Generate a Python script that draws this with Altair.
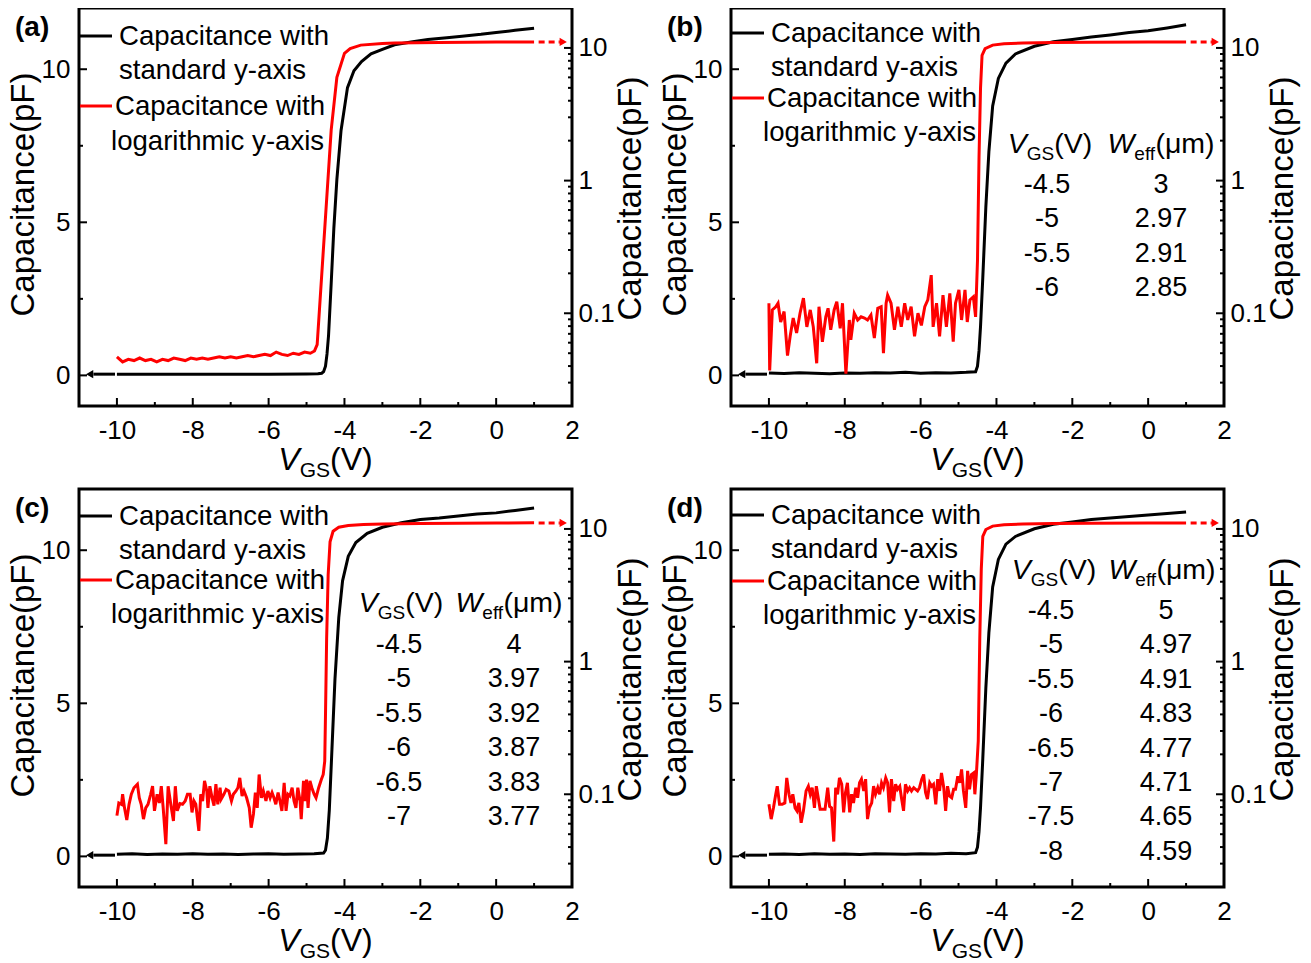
import altair as alt
import pandas as pd

FONT = "Liberation Sans"
W, H = 493, 398
X_DOMAIN = [-11, 2]
Y_DOMAIN = [-1, 12]
LOG_DOMAIN = [0.02, 20]
X_MAJOR = [-10, -8, -6, -4, -2, 0, 2]
X_MINOR = [-9, -7, -5, -3, -1, 1]
Y_MAJOR = [0, 5, 10]
Y_MINOR = [2.5, 7.5]
LOG_MAJOR = [0.1, 1, 10]
LOG_MINOR = [0.03, 0.04, 0.05, 0.06, 0.07, 0.08, 0.09,
             0.2, 0.3, 0.4, 0.5, 0.6, 0.7, 0.8, 0.9,
             2, 3, 4, 5, 6, 7, 8, 9]

# ---------------- panel (a) ----------------
A_BLACK_V = [-10.0, -9.0, -8.0, -7.0, -6.0, -5.0, -4.7, -4.6, -4.55, -4.5, -4.46, -4.42, -4.35, -4.28, -4.2,
             -4.09, -3.92, -3.75, -3.55, -3.3, -3.0, -2.68, -2.2, -1.8, -1.3, -0.9, -0.4, 0.0, 0.5, 1.0]
A_BLACK_C = [0.04, 0.04, 0.04, 0.04, 0.04, 0.045, 0.05, 0.07, 0.12, 0.3, 0.7, 1.3, 3.0, 4.8, 6.4,
             8.0, 9.4, 9.95, 10.25, 10.5, 10.65, 10.8, 10.9, 10.97, 11.03, 11.08, 11.14, 11.2, 11.27, 11.34]
A_RED_V = [-10.0, -9.85, -9.7, -9.55, -9.4, -9.25, -9.1, -8.95, -8.8, -8.65, -8.5, -8.35, -8.2, -8.05, -7.9,
           -7.75, -7.6, -7.45, -7.3, -7.15, -7.0, -6.85, -6.7, -6.55, -6.4, -6.25, -6.1, -5.95, -5.8, -5.65,
           -5.5, -5.35, -5.2, -5.05, -4.9, -4.79, -4.72, -4.35, -4.2, -4.0, -3.85, -3.57, -3.0, -2.68, -1.5,
           0.0, 1.0]
A_RED_C = [0.047, 0.043, 0.045, 0.044, 0.046, 0.044, 0.045, 0.043, 0.045, 0.044, 0.046, 0.045, 0.044, 0.046,
           0.045, 0.046, 0.045, 0.046, 0.047, 0.046, 0.047, 0.046, 0.047, 0.048, 0.047, 0.048, 0.049, 0.048,
           0.051, 0.049, 0.048, 0.050, 0.049, 0.051, 0.050, 0.052, 0.058, 2.4, 6.0, 9.1, 9.9, 10.5, 10.8,
           10.9, 11.0, 11.07, 11.1]

# ---------------- panel (b) ----------------
B_BLACK_V = [-10.0, -9.6, -9.2, -8.8, -8.4, -8.0, -7.6, -7.2, -6.8, -6.4, -6.0, -5.6, -5.2, -4.8,
             -4.55, -4.5, -4.46, -4.42, -4.36, -4.28, -4.2, -4.1, -3.95, -3.75, -3.5, -3.0, -2.5, -2.0,
             -1.5, -1.0, -0.5, 0.0, 0.5, 1.0]
B_BLACK_C = [0.08, 0.06, 0.09, 0.07, 0.05, 0.08, 0.07, 0.09, 0.08, 0.1, 0.07, 0.09, 0.08, 0.1,
             0.12, 0.3, 0.8, 1.6, 3.2, 5.5, 7.3, 8.8, 9.7, 10.2, 10.5, 10.75, 10.9, 10.97,
             11.05, 11.12, 11.2, 11.26, 11.35, 11.45]
B_RED_V = [-10.0, -9.98, -9.91, -9.82, -9.76, -9.69, -9.60, -9.51, -9.44, -9.36, -9.27, -9.18, -9.09, -9.00,
           -8.91, -8.83, -8.74, -8.68, -8.59, -8.50, -8.44, -8.37, -8.28, -8.21, -8.12, -8.06, -7.97, -7.88,
           -7.84, -7.75, -7.66, -7.57, -7.48, -7.40, -7.31, -7.22, -7.13, -7.04, -6.98, -6.91, -6.87, -6.78,
           -6.69, -6.60, -6.51, -6.42, -6.34, -6.25, -6.16, -6.07, -5.98, -5.89, -5.81, -5.72, -5.67, -5.58,
           -5.50, -5.41, -5.32, -5.23, -5.14, -5.08, -4.99, -4.92, -4.83, -4.77, -4.70, -4.61, -4.55, -4.50,
           -4.46, -4.42, -4.38, -4.30, -4.10, -3.80, -3.30, -2.50, -1.50, 0.0, 1.0]
B_RED_C = [0.119, 0.037, 0.106, 0.112, 0.119, 0.086, 0.103, 0.048, 0.067, 0.092, 0.071, 0.100, 0.130, 0.079,
           0.106, 0.079, 0.042, 0.112, 0.061, 0.094, 0.109, 0.075, 0.106, 0.122, 0.077, 0.119, 0.035, 0.089,
           0.063, 0.100, 0.089, 0.094, 0.092, 0.089, 0.097, 0.065, 0.109, 0.112, 0.050, 0.119, 0.137, 0.119,
           0.075, 0.112, 0.079, 0.119, 0.089, 0.112, 0.067, 0.100, 0.081, 0.112, 0.126, 0.194, 0.079, 0.119,
           0.067, 0.137, 0.079, 0.141, 0.061, 0.119, 0.150, 0.089, 0.150, 0.086, 0.126, 0.133, 0.094, 0.252,
           1.5, 5.0, 8.8, 9.9, 10.5, 10.75, 10.9, 10.98, 11.03, 11.08, 11.1]
B_TABLE_VGS = ["-4.5", "-5", "-5.5", "-6"]
B_TABLE_WEFF = ["3", "2.97", "2.91", "2.85"]

# ---------------- panel (c) ----------------
C_BLACK_V = [-10.0, -9.6, -9.2, -8.8, -8.4, -8.0, -7.6, -7.2, -6.8, -6.4, -6.0, -5.6, -5.2, -4.8,
             -4.55, -4.5, -4.45, -4.40, -4.33, -4.25, -4.15, -4.05, -3.9, -3.7, -3.4, -3.0, -2.5, -2.0,
             -1.5, -1.0, -0.5, 0.0, 0.5, 1.0]
C_BLACK_C = [0.07, 0.09, 0.06, 0.08, 0.07, 0.09, 0.07, 0.08, 0.06, 0.08, 0.09, 0.07, 0.08, 0.09,
             0.11, 0.2, 0.6, 1.5, 3.5, 5.8, 7.8, 9.0, 9.8, 10.25, 10.55, 10.75, 10.9, 11.0,
             11.05, 11.12, 11.18, 11.22, 11.3, 11.38]
C_RED_V = [-10.0, -9.95, -9.88, -9.85, -9.80, -9.74, -9.68, -9.62, -9.55, -9.46, -9.41, -9.36, -9.30, -9.24,
           -9.18, -9.11, -9.06, -9.01, -8.94, -8.88, -8.83, -8.78, -8.71, -8.65, -8.58, -8.51, -8.46, -8.41,
           -8.34, -8.27, -8.20, -8.14, -8.07, -8.02, -7.97, -7.92, -7.84, -7.79, -7.74, -7.69, -7.63, -7.60,
           -7.55, -7.49, -7.44, -7.39, -7.34, -7.28, -7.25, -7.18, -7.12, -7.05, -6.98, -6.93, -6.86, -6.81,
           -6.76, -6.70, -6.65, -6.58, -6.51, -6.46, -6.40, -6.35, -6.30, -6.25, -6.19, -6.14, -6.07, -6.02,
           -5.96, -5.91, -5.86, -5.81, -5.75, -5.70, -5.65, -5.59, -5.54, -5.49, -5.44, -5.38, -5.33, -5.28,
           -5.23, -5.17, -5.14, -5.08, -5.03, -5.00, -4.96, -4.91, -4.86, -4.80, -4.75, -4.68, -4.61, -4.56,
           -4.52,
           -4.50, -4.47, -4.43, -4.38, -4.30, -4.15, -3.90, -3.50, -3.00, -2.00, -1.00, 0.0, 1.0]
C_RED_C = [0.069, 0.086, 0.084, 0.100, 0.079, 0.064, 0.084, 0.100, 0.112, 0.119, 0.094, 0.084, 0.065, 0.079,
           0.084, 0.100, 0.115, 0.075, 0.100, 0.086, 0.115, 0.079, 0.042, 0.115, 0.084, 0.063, 0.115, 0.075,
           0.085, 0.084, 0.089, 0.100, 0.100, 0.073, 0.089, 0.084, 0.053, 0.100, 0.089, 0.126, 0.106, 0.079,
           0.115, 0.094, 0.082, 0.119, 0.084, 0.112, 0.092, 0.100, 0.109, 0.106, 0.089, 0.100, 0.106, 0.112,
           0.133, 0.097, 0.106, 0.094, 0.079, 0.056, 0.071, 0.103, 0.079, 0.141, 0.094, 0.106, 0.089, 0.106,
           0.094, 0.103, 0.094, 0.084, 0.103, 0.089, 0.075, 0.122, 0.075, 0.100, 0.097, 0.112, 0.089, 0.079,
           0.112, 0.089, 0.065, 0.126, 0.089, 0.129, 0.079, 0.126, 0.112, 0.100, 0.094, 0.112, 0.129, 0.141,
           0.178,
           0.4, 1.5, 4.5, 8.0, 9.6, 10.3, 10.6, 10.8, 10.9, 11.0, 11.05, 11.1, 11.12]
C_TABLE_VGS = ["-4.5", "-5", "-5.5", "-6", "-6.5", "-7"]
C_TABLE_WEFF = ["4", "3.97", "3.92", "3.87", "3.83", "3.77"]

# ---------------- panel (d) ----------------
D_BLACK_V = [-10.0, -9.6, -9.2, -8.8, -8.4, -8.0, -7.6, -7.2, -6.8, -6.4, -6.0, -5.6, -5.2, -4.8,
             -4.55, -4.5, -4.46, -4.42, -4.36, -4.28, -4.2, -4.1, -3.95, -3.75, -3.5, -3.0, -2.5, -2.0,
             -1.5, -1.0, -0.5, 0.0, 0.5, 1.0]
D_BLACK_C = [0.07, 0.08, 0.06, 0.09, 0.07, 0.08, 0.06, 0.09, 0.08, 0.07, 0.09, 0.08, 0.1, 0.09,
             0.12, 0.3, 0.8, 1.6, 3.2, 5.5, 7.3, 8.8, 9.7, 10.2, 10.45, 10.7, 10.85, 10.92,
             11.0, 11.05, 11.1, 11.15, 11.2, 11.25]
D_RED_V = [-10.00, -9.94, -9.88, -9.82, -9.78, -9.72, -9.65, -9.58, -9.53, -9.47, -9.42, -9.37, -9.31, -9.26,
           -9.21, -9.15, -9.09, -9.02, -8.96, -8.91, -8.86, -8.80, -8.75, -8.70, -8.65, -8.59, -8.52, -8.45,
           -8.40, -8.35, -8.29, -8.24, -8.19, -8.14, -8.08, -8.03, -7.98, -7.93, -7.87, -7.82, -7.77, -7.71,
           -7.66, -7.61, -7.56, -7.50, -7.45, -7.40, -7.35, -7.29, -7.24, -7.19, -7.13, -7.08, -7.03, -6.98,
           -6.92, -6.87, -6.82, -6.77, -6.71, -6.66, -6.61, -6.55, -6.50, -6.45, -6.40, -6.34, -6.29, -6.24,
           -6.18, -6.13, -6.08, -6.03, -5.97, -5.92, -5.87, -5.82, -5.76, -5.71, -5.66, -5.60, -5.55, -5.50,
           -5.45, -5.39, -5.34, -5.29, -5.24, -5.18, -5.13, -5.08, -5.02, -4.97, -4.92, -4.87, -4.81, -4.76,
           -4.71, -4.66, -4.60, -4.57, -4.53, -4.48,
           -4.44, -4.40, -4.36, -4.28, -4.10, -3.80, -3.30, -2.50, -1.50, 0.0, 1.0]
D_RED_C = [0.084, 0.065, 0.079, 0.100, 0.115, 0.084, 0.084, 0.086, 0.133, 0.100, 0.086, 0.100, 0.079, 0.075,
           0.086, 0.061, 0.075, 0.106, 0.115, 0.100, 0.112, 0.079, 0.115, 0.094, 0.077, 0.077, 0.077, 0.112,
           0.081, 0.079, 0.044, 0.112, 0.100, 0.133, 0.119, 0.073, 0.103, 0.122, 0.073, 0.100, 0.086, 0.112,
           0.094, 0.122, 0.130, 0.106, 0.130, 0.065, 0.079, 0.086, 0.115, 0.100, 0.112, 0.100, 0.122, 0.112,
           0.133, 0.122, 0.073, 0.130, 0.089, 0.119, 0.109, 0.115, 0.092, 0.075, 0.119, 0.106, 0.112, 0.106,
           0.112, 0.109, 0.106, 0.112, 0.130, 0.141, 0.103, 0.092, 0.122, 0.115, 0.119, 0.084, 0.130, 0.106,
           0.145, 0.112, 0.075, 0.115, 0.097, 0.094, 0.109, 0.109, 0.137, 0.122, 0.154, 0.106, 0.079, 0.150,
           0.109, 0.141, 0.145, 0.100, 0.141, 0.252,
           1.5, 5.0, 8.8, 9.9, 10.5, 10.75, 10.9, 10.98, 11.03, 11.08, 11.1]
D_TABLE_VGS = ["-4.5", "-5", "-5.5", "-6", "-6.5", "-7", "-7.5", "-8"]
D_TABLE_WEFF = ["5", "4.97", "4.91", "4.83", "4.77", "4.71", "4.65", "4.59"]

# arrows (pointing to the axis each curve belongs to)
ARROW_LEFT_V = [-10.05, -10.62]
ARROW_LEFT_HEAD_V = [-10.72]
ARROW_LEFT_C = 0.04
ARROW_RIGHT_V = [1.12, 1.68]
ARROW_RIGHT_HEAD_V = [1.77]
ARROW_RIGHT_C = 11.1

LEGEND_TEXT = ["Capacitance with", "standard y-axis", "Capacitance with", "logarithmic y-axis"]

# ---------------- styling / layout helpers ----------------
CHAR_W = {'V': 0.667, 'G': 0.778, 'S': 0.667, '(': 0.333, ')': 0.333, 'W': 0.944,
          'e': 0.556, 'f': 0.278, 'μ': 0.576, 'm': 0.833}
LABEL_EXPR = "'' + datum.value"


def tw(s, size):
    return sum(CHAR_W.get(c, 0.556) for c in s) * size


def sub_label(cx, base_y, main, sub, tail, fs, sfs, dy):
    w0, w1, w2 = tw(main, fs), tw(sub, sfs), tw(tail, fs)
    x0 = cx - (w0 + w1 + w2) / 2
    ital = [dict(px=x0, py=base_y, t=main, fs=fs)]
    norm = [dict(px=x0 + w0, py=base_y + dy, t=sub, fs=sfs),
            dict(px=x0 + w0 + w1, py=base_y, t=tail, fs=fs)]
    return ital, norm


def text_layer(rows, style="normal", weight="normal", align="left", baseline="alphabetic"):
    df = pd.DataFrame(rows)
    return alt.Chart(df).mark_text(font=FONT, fontStyle=style, fontWeight=weight, align=align,
                                   baseline=baseline, color="black").encode(
        x=alt.X("px:Q", scale=None),
        y=alt.Y("py:Q", scale=None),
        text=alt.Text("t:N"),
        size=alt.Size("fs:Q", scale=None, legend=None),
    )


xs = alt.Scale(domain=X_DOMAIN, nice=False, zero=False)
ys = alt.Scale(domain=Y_DOMAIN, nice=False, zero=False)
ls = alt.Scale(type="log", domain=LOG_DOMAIN, nice=False)

x_axis = alt.Axis(values=X_MAJOR, domain=False, ticks=False, tickSize=0, labelPadding=11,
                  labelFontSize=26, labelFlush=False, grid=False, labelExpr=LABEL_EXPR, title="")
left_axis = alt.Axis(values=Y_MAJOR, orient="left", domain=False, ticks=False, tickSize=0,
                     labelPadding=9, labelFontSize=26, grid=False, labelExpr=LABEL_EXPR,
                     title="Capacitance(pF)", titleFontSize=33, titleFontWeight="normal",
                     titlePadding=1, titleY=186)
right_axis = alt.Axis(values=LOG_MAJOR, orient="right", domain=False, ticks=False, tickSize=0,
                      labelPadding=6, labelFontSize=26, grid=False, labelExpr=LABEL_EXPR,
                      title="Capacitance(pF)", titleFontSize=33, titleFontWeight="normal",
                      titleAngle=270, titleBaseline="top", titlePadding=0, titleY=190)


def X(field):
    return alt.X(field, scale=xs, axis=x_axis, title="")


def YL(field):
    return alt.Y(field, scale=ys, axis=left_axis, title="Capacitance(pF)")


def YR(field):
    return alt.Y(field, scale=ls, axis=right_axis, title="Capacitance(pF)")


def panel(label, bv, bc, rv, rc, leg_y, table=None):
    black = alt.Chart(pd.DataFrame({"V": bv, "C": bc})).mark_line(color="black", strokeWidth=3).encode(
        x=X("V:Q"), y=YL("C:Q"))
    red = alt.Chart(pd.DataFrame({"V": rv, "C": rc})).mark_line(color="#ff0000", strokeWidth=3).encode(
        x=X("V:Q"), y=YR("C:Q"))

    def xticks(vals, ln):
        return alt.Chart(pd.DataFrame({"V": vals})).mark_rule(color="black", strokeWidth=2).encode(
            x=X("V:Q"), y=alt.value(H), y2=alt.value(H - ln))

    def yticks(vals, ln):
        return alt.Chart(pd.DataFrame({"C": vals})).mark_rule(color="black", strokeWidth=2).encode(
            y=YL("C:Q"), x=alt.value(0), x2=alt.value(ln))

    def lticks(vals, ln):
        return alt.Chart(pd.DataFrame({"C": vals})).mark_rule(color="black", strokeWidth=2).encode(
            y=YR("C:Q"), x=alt.value(W), x2=alt.value(W - ln))

    arrow_l = alt.Chart(pd.DataFrame({"V": ARROW_LEFT_V, "C": [ARROW_LEFT_C] * 2})).mark_line(
        color="black", strokeWidth=3).encode(x=X("V:Q"), y=YL("C:Q"))
    arrow_l_head = alt.Chart(pd.DataFrame({"V": ARROW_LEFT_HEAD_V, "C": [ARROW_LEFT_C]})).mark_point(
        shape="triangle-left", filled=True, color="black", size=70, opacity=1).encode(
        x=X("V:Q"), y=YL("C:Q"))
    arrow_r = alt.Chart(pd.DataFrame({"V": ARROW_RIGHT_V, "C": [ARROW_RIGHT_C] * 2})).mark_line(
        color="#ff0000", strokeWidth=3, strokeDash=[6, 4]).encode(x=X("V:Q"), y=YR("C:Q"))
    arrow_r_head = alt.Chart(pd.DataFrame({"V": ARROW_RIGHT_HEAD_V, "C": [ARROW_RIGHT_C]})).mark_point(
        shape="triangle-right", filled=True, color="#ff0000", size=70, opacity=1).encode(
        x=X("V:Q"), y=YR("C:Q"))

    # legend
    leg_lines = pd.DataFrame({"x1": [1, 1], "x2": [33, 33], "yy": [leg_y[0] - 1, leg_y[2] - 1],
                              "col": ["black", "#ff0000"]})
    leg_line_layer = alt.Chart(leg_lines).mark_rule(strokeWidth=3).encode(
        x=alt.X("x1:Q", scale=None), x2="x2:Q",
        y=alt.Y("yy:Q", scale=None), color=alt.Color("col:N", scale=None, legend=None))
    leg_x = [40, 40, 36, 32]
    leg_rows = [dict(px=leg_x[i], py=leg_y[i], t=LEGEND_TEXT[i], fs=27.6) for i in range(4)]

    ital_rows = []
    norm_rows = []
    center_rows = []
    it, no = sub_label(W / 2, H + 64, "V", "GS", "(V)", 32, 21, 7)
    ital_rows += it
    norm_rows += no

    if table is not None:
        vgs, weff, head_y, row0, c1h, c2h, c1, c2 = table
        it, no = sub_label(c1h, head_y, "V", "GS", "(V)", 28.5, 19, 7)
        ital_rows += it
        norm_rows += no
        it, no = sub_label(c2h, head_y, "W", "eff", "(μm)", 28.5, 19, 7)
        ital_rows += it
        norm_rows += no
        for i, (a, b) in enumerate(zip(vgs, weff)):
            center_rows.append(dict(px=c1, py=row0 + 34.4 * i, t=a, fs=27))
            center_rows.append(dict(px=c2, py=row0 + 34.4 * i, t=b, fs=27))

    left_layers = [black, xticks(X_MAJOR, 8), xticks(X_MINOR, 4), yticks(Y_MAJOR, 8), yticks(Y_MINOR, 4),
                   arrow_l, arrow_l_head]
    right_layers = [red, lticks(LOG_MAJOR, 8), lticks(LOG_MINOR, 4), arrow_r, arrow_r_head]
    deco = [leg_line_layer,
            text_layer(leg_rows, baseline="middle"),
            text_layer(ital_rows, style="italic"),
            text_layer(norm_rows),
            text_layer([dict(px=-64, py=20, t=label, fs=28)], weight="bold", baseline="middle")]
    if center_rows:
        deco.append(text_layer(center_rows, align="center", baseline="middle"))
    left = alt.layer(*left_layers)
    right = alt.layer(*right_layers)
    base = alt.layer(left, right).resolve_scale(y="independent")
    return alt.layer(base, *deco).properties(width=W, height=H)


pa = panel("(a)", A_BLACK_V, A_BLACK_C, A_RED_V, A_RED_C, [29, 63, 99, 134])
pb = panel("(b)", B_BLACK_V, B_BLACK_C, B_RED_V, B_RED_C, [26, 60, 91, 125],
           (B_TABLE_VGS, B_TABLE_WEFF, 145, 177, 319, 430, 316, 430))
pc = panel("(c)", C_BLACK_V, C_BLACK_C, C_RED_V, C_RED_C, [28, 62, 92, 126],
           (C_TABLE_VGS, C_TABLE_WEFF, 123, 156, 322, 430, 320, 435))
pd_ = panel("(d)", D_BLACK_V, D_BLACK_C, D_RED_V, D_RED_C, [27, 61, 93, 127],
            (D_TABLE_VGS, D_TABLE_WEFF, 90, 122, 323, 431, 320, 435))

chart = alt.concat(pa, pb, pc, pd_, columns=2, spacing={"row": 83, "column": 159}, bounds="flush").properties(
    padding={"left": -3, "top": -2, "right": 0, "bottom": 0}
).configure_view(stroke="black", strokeWidth=3).configure_axis(
    labelFont=FONT, titleFont=FONT, labelColor="black", titleColor="black", grid=False
)

chart.save("out.html", embed_options={"renderer": "svg", "actions": False})
